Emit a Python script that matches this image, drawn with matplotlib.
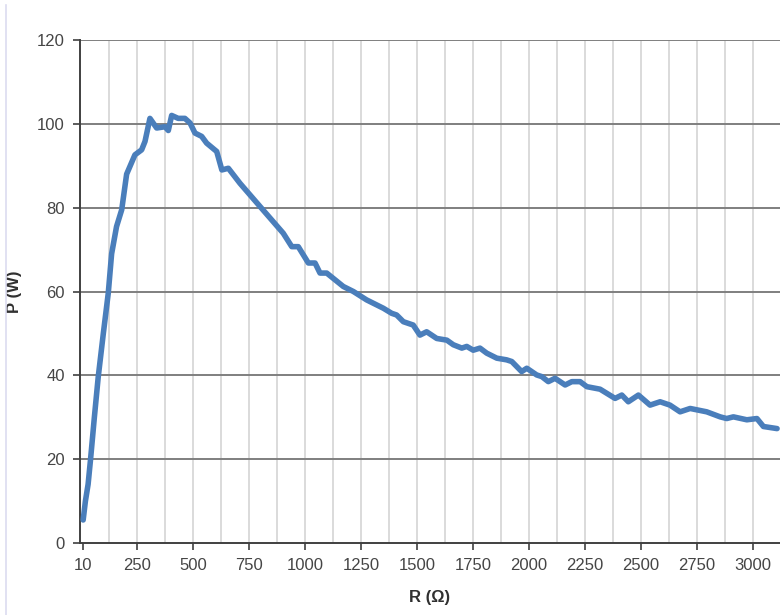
import numpy as np
import matplotlib.pyplot as plt
from matplotlib.lines import Line2D

plt.rcParams['font.family'] = ['Liberation Sans', 'DejaVu Sans']

# resistance (ohm) and power (W)
r_values = [10, 20, 32, 43, 60, 77, 100, 122, 137, 159, 182, 204, 241, 271,
            286, 308, 338, 375, 390, 405, 434, 464, 487, 509, 539, 561, 606,
            629, 658, 710, 799, 903, 941, 970, 1015, 1045, 1067, 1097, 1171,
            1216, 1275, 1350, 1387, 1409, 1439, 1483, 1513, 1543, 1588, 1633,
            1662, 1700, 1722, 1751, 1781, 1811, 1856, 1900, 1923, 1967, 1990,
            2034, 2057, 2086, 2116, 2161, 2191, 2228, 2258, 2317, 2384, 2414,
            2443, 2488, 2540, 2585, 2629, 2674, 2719, 2793, 2853, 2882, 2912,
            2972, 3017, 3046, 3107]
p_values = [5.5, 10.0, 14.0, 20.0, 30.0, 39.5, 50.0, 59.6, 69.0, 75.5, 79.5,
            88.0, 92.6, 93.8, 95.8, 101.3, 99.0, 99.3, 98.4, 102.0, 101.3,
            101.3, 100.2, 97.8, 97.0, 95.4, 93.4, 89.0, 89.4, 85.8, 80.3, 73.9,
            70.7, 70.7, 66.8, 66.8, 64.4, 64.4, 61.2, 60.0, 58.0, 56.0, 54.8,
            54.4, 52.8, 52.0, 49.6, 50.4, 48.8, 48.4, 47.3, 46.5, 46.9, 46.0,
            46.5, 45.3, 44.1, 43.7, 43.3, 40.9, 41.7, 40.1, 39.7, 38.5, 39.3,
            37.7, 38.5, 38.5, 37.3, 36.7, 34.5, 35.3, 33.7, 35.3, 32.9, 33.7,
            32.9, 31.3, 32.1, 31.3, 30.1, 29.7, 30.1, 29.4, 29.7, 27.8, 27.3]

x_ticks = [10, 250, 500, 750, 1000, 1250, 1500, 1750, 2000, 2250, 2500, 2750, 3000]
x_tick_labels = [str(t) for t in x_ticks]
y_ticks = [0, 20, 40, 60, 80, 100, 120]

fig = plt.figure(figsize=(7.8, 6.15), dpi=100)
ax = fig.add_axes([0.1026, 0.117, 0.8974, 0.818])

# faint page border on the left
fig.add_artist(Line2D([6 / 780, 6 / 780], [0, 1 - 5 / 615], color='#dcdcf0',
                      lw=1.2, transform=fig.transFigure))

# light vertical grid
for gx in np.arange(125, 3125, 125):
    ax.axvline(gx, color='#d4d4d4', lw=1.2, zorder=0)
# dark horizontal grid
for gy in y_ticks[1:]:
    ax.axhline(gy, color='#7f7f7f', lw=1.4, zorder=1)

ax.plot(r_values, p_values, color='#4a7ebb', lw=4.0, solid_joinstyle='round',
        solid_capstyle='round', zorder=3)

ax.set_xlim(-4, 3120)
ax.set_ylim(0, 120)
ax.set_xticks(x_ticks)
ax.set_xticklabels(x_tick_labels)
ax.set_yticks(y_ticks)

ax.spines['top'].set_visible(False)
ax.spines['right'].set_visible(False)
ax.spines['left'].set_color('#404040')
ax.spines['bottom'].set_color('#404040')
ax.spines['left'].set_linewidth(1.4)
ax.spines['bottom'].set_linewidth(1.4)

ax.tick_params(axis='both', colors='#404040', labelcolor='#454545',
               labelsize=12, length=5, width=1.2, direction='out', pad=6)

ax.set_xlabel('R (Ω)', fontsize=12, fontweight='bold', color='#303030',
              labelpad=12)
ax.set_ylabel('P (W)', fontsize=12, fontweight='bold', color='#303030',
              labelpad=11)

fig.savefig('out.png', dpi=100)
